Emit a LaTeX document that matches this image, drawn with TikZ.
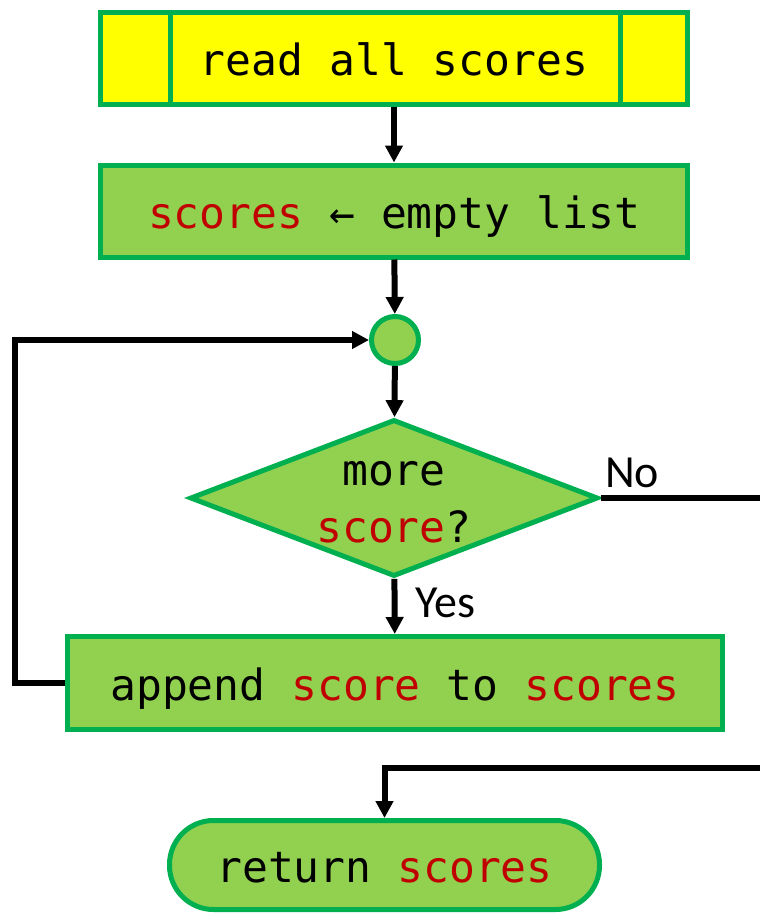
\documentclass[tikz,border=0pt]{standalone}
\usepackage{fontspec}
\setmonofont{DejaVu Sans Mono}
\setsansfont{Carlito}
\usetikzlibrary{shapes,arrows.meta}

\definecolor{boxgreen}{HTML}{92D050}
\definecolor{edgegreen}{HTML}{00B050}
\definecolor{boxyellow}{HTML}{FFFF00}
\definecolor{varred}{HTML}{C00000}
\newcommand{\var}[1]{\textcolor{varred}{#1}}

\begin{document}
\begin{tikzpicture}[x=1pt,y=-1pt]
\tikzstyle{every path}=[line width=5pt]
\tikzstyle{flow}=[-{Triangle[length=17pt,width=17pt]},line width=6pt]
\tikzstyle{box}=[rectangle,draw=edgegreen,fill=boxgreen,inner sep=0pt,
  font=\fontsize{43}{57}\selectfont\ttfamily,text height=36pt,text depth=2pt]
\tikzstyle{lbl}=[inner sep=0pt,font=\fontsize{46}{50}\selectfont\sffamily]

\useasboundingbox (0,0) rectangle (760,914);

\node (read) at (394,58) [box,fill=boxyellow,minimum width=587pt,minimum height=92pt] {read all scores};
\draw[edgegreen] ([xshift=72pt]read.north west) -- ([xshift=72pt]read.south west);
\draw[edgegreen] ([xshift=-70pt]read.north east) -- ([xshift=-70pt]read.south east);

\node (init) at (394,211) [box,minimum width=587pt,minimum height=92pt] {\var{scores} ← empty list};
\node (conn) at (395,340) [circle,draw=edgegreen,fill=boxgreen,minimum size=47pt,inner sep=0pt] {};
\node (test) at (394,498) [diamond,draw=edgegreen,fill=boxgreen,aspect=2.6,inner sep=-6pt,
  minimum width=408pt,minimum height=157pt,align=center,
  font=\fontsize{43}{57}\selectfont\ttfamily] {more\vphantom{l}\\\var{score}?};
\node (append) at (395,683) [box,minimum width=655pt,minimum height=93pt] {append \var{score} to \var{scores}};
\node (ret) at (384.5,865) [box,rounded corners=44pt,minimum width=430pt,minimum height=89pt] {return \var{scores}};

\node (no) at (632,473) [lbl] {No};
\node (yes) at (445,603) [lbl] {Yes};

\coordinate (noexit) at (760,498);
\coordinate (fromno) at (760,768);

\draw[flow] (read) -- (init);
\draw[flow] (init) -- (conn);
\draw[flow] (conn) -- (test);
\draw[flow] (test) -- (append);
\draw[line width=6pt] (test.east) -- (noexit);
\draw[flow] (append.west) -- ++(-50,0) |- (conn.west);
\draw[flow] (fromno) -| (ret.north);
\end{tikzpicture}
\end{document}
